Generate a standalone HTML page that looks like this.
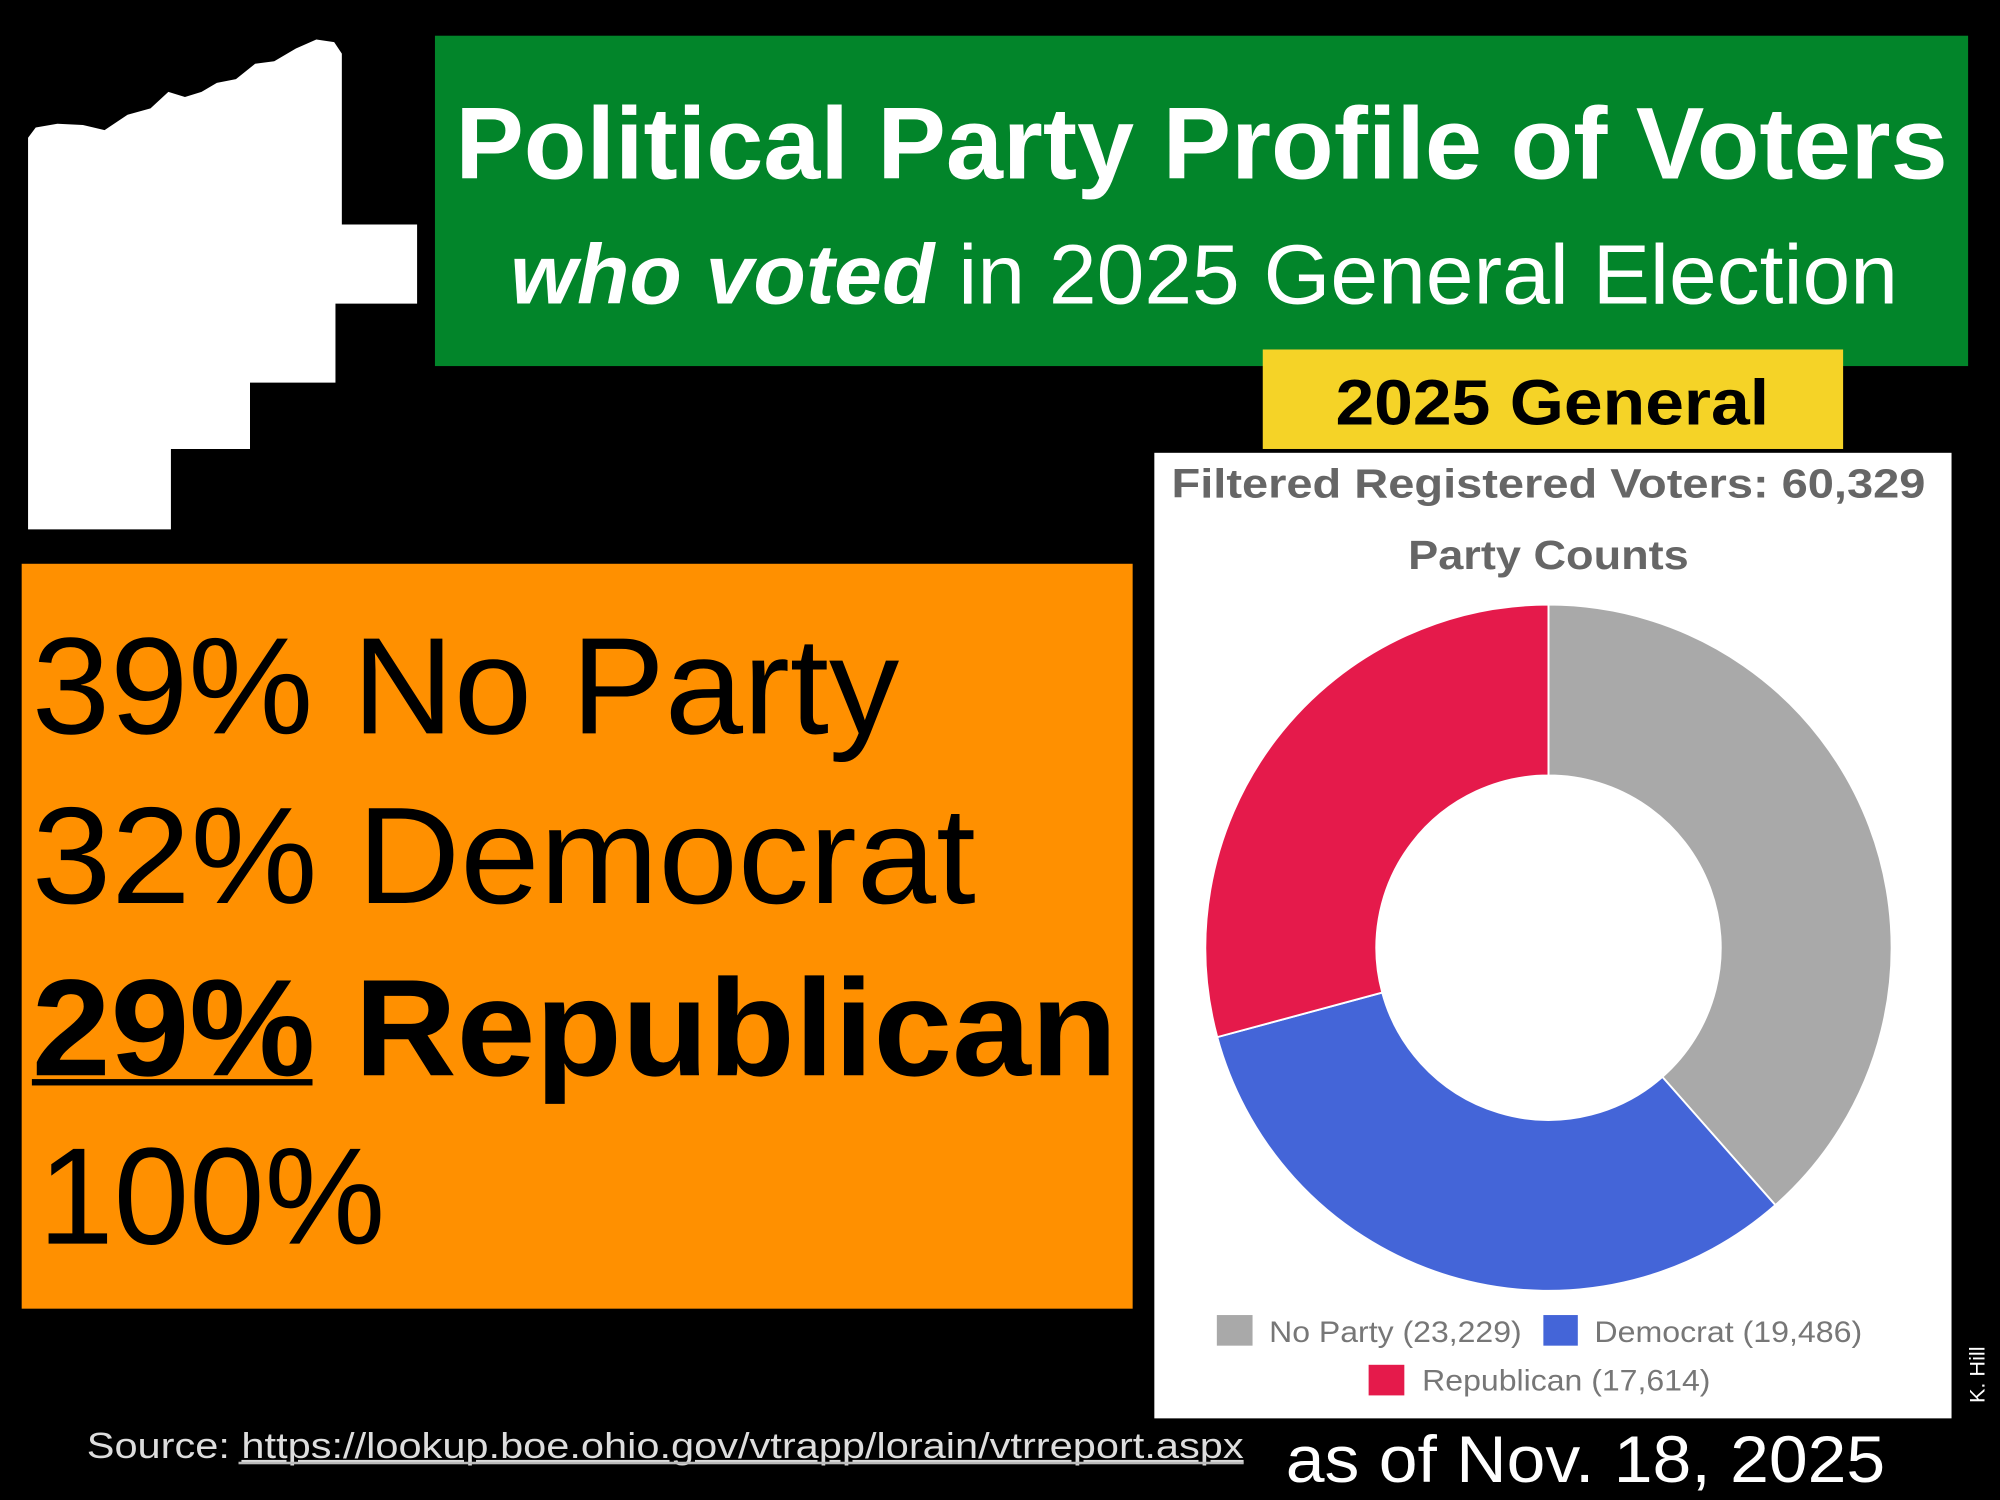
<!DOCTYPE html>
<html><head><meta charset="utf-8"><style>
html,body{margin:0;padding:0;background:#000;}
svg{display:block;}
text{font-family:"Liberation Sans",sans-serif;}
</style></head><body>
<svg width="2000" height="1500" viewBox="0 0 1568 1176" xmlns="http://www.w3.org/2000/svg">
<rect x="0" y="0" width="1568" height="1176" fill="#000"/>
<!-- Ohio-like county shape -->
<polygon fill="#fff" points="22,415 134,415 134,352 196,352 196,300 263,300 263,238 327,238 327,176 268,176 268,42 262,33 248,31 232,38 215,48 200,50 185,62 170,65 158,72 145,76 132,72 118,85 100,90 82,102 65,98 45,97 28,100 22,108"/>
<!-- green title -->
<rect x="341" y="28" width="1202" height="259" fill="#02852a"/>
<text x="942" y="140" font-size="80" font-weight="bold" fill="#fff" text-anchor="middle" textLength="1170" lengthAdjust="spacingAndGlyphs">Political Party Profile of Voters</text>
<text x="400" y="238" font-size="66" fill="#fff" textLength="1088" lengthAdjust="spacingAndGlyphs"><tspan font-weight="bold" font-style="italic">who voted</tspan> in 2025 General Election</text>
<!-- yellow -->
<rect x="990" y="274" width="455" height="78" fill="#f5d327"/>
<text x="1217" y="333" font-size="50" font-weight="bold" fill="#000" text-anchor="middle" textLength="340" lengthAdjust="spacingAndGlyphs">2025 General</text>
<!-- white chart panel -->
<rect x="905" y="355" width="625" height="757" fill="#fff"/>
<text x="1214" y="390" font-size="32" font-weight="bold" fill="#666" text-anchor="middle" textLength="591" lengthAdjust="spacingAndGlyphs">Filtered Registered Voters: 60,329</text>
<text x="1214" y="446" font-size="32" font-weight="bold" fill="#666" text-anchor="middle" textLength="220" lengthAdjust="spacingAndGlyphs">Party Counts</text>
<g stroke="#fff" stroke-width="1.5">
<path fill="#a9a9a9" d="M1214,474 A269,269 0 0 1 1391.9,944.8 L1303.3,844.3 A135,135 0 0 0 1214,608 Z"/>
<path fill="#4465d8" d="M1391.9,944.8 A269,269 0 0 1 954.3,813.1 L1083.7,778.2 A135,135 0 0 0 1303.3,844.3 Z"/>
<path fill="#e51a4b" d="M954.3,813.1 A269,269 0 0 1 1214,474 L1214,608 A135,135 0 0 0 1083.7,778.2 Z"/>
</g>
<rect x="954" y="1031" width="28" height="24" fill="#a9a9a9"/>
<text x="995" y="1052" font-size="23" fill="#777" textLength="198" lengthAdjust="spacingAndGlyphs">No Party (23,229)</text>
<rect x="1210" y="1031" width="27" height="24" fill="#4465d8"/>
<text x="1250" y="1052" font-size="23" fill="#777" textLength="210" lengthAdjust="spacingAndGlyphs">Democrat (19,486)</text>
<rect x="1073" y="1070" width="28" height="24" fill="#e51a4b"/>
<text x="1115" y="1090" font-size="23" fill="#777" textLength="226" lengthAdjust="spacingAndGlyphs">Republican (17,614)</text>
<text transform="translate(1556,1100) rotate(-90)" font-size="17" fill="#fff">K. Hill</text>
<!-- orange box -->
<rect x="17" y="442" width="871" height="584" fill="#ff9000"/>
<text x="25" y="575" font-size="108" fill="#000" textLength="680" lengthAdjust="spacingAndGlyphs">39% No Party</text>
<text x="25" y="708" font-size="108" fill="#000" textLength="740" lengthAdjust="spacingAndGlyphs">32% Democrat</text>
<text x="25" y="843" font-size="108" font-weight="bold" fill="#000" textLength="851" lengthAdjust="spacingAndGlyphs">29% Republican</text>
<rect x="25" y="846" width="220" height="5" fill="#000"/>
<text x="30" y="975" font-size="108" fill="#000" textLength="272" lengthAdjust="spacingAndGlyphs">100%</text>
<!-- footer -->
<text x="68" y="1143" font-size="28" fill="#ddd" textLength="907" lengthAdjust="spacingAndGlyphs">Source: <tspan text-decoration="underline">https://lookup.boe.ohio.gov/vtrapp/lorain/vtrreport.aspx</tspan></text>
<rect x="187" y="1146" width="788" height="2" fill="#bbb"/>
<text x="1008" y="1162" font-size="52" fill="#fff" textLength="470" lengthAdjust="spacingAndGlyphs">as of Nov. 18, 2025</text>
</svg>
</body></html>
